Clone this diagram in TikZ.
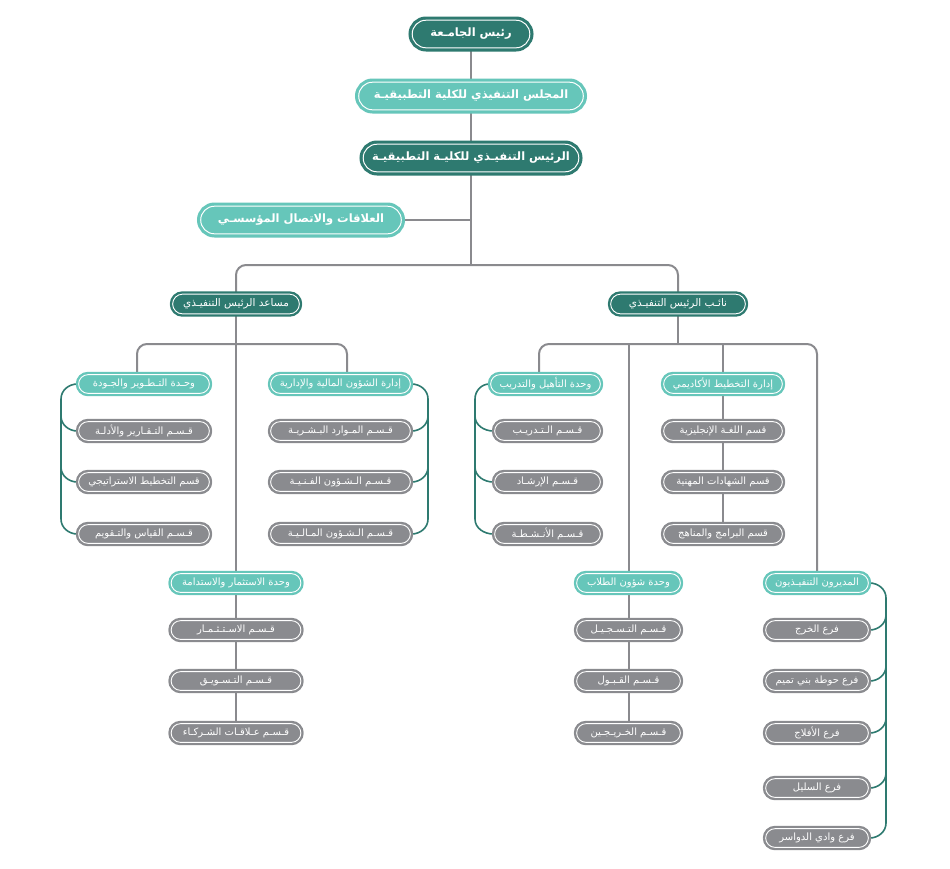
\documentclass[tikz,border=0pt]{standalone}
\usepackage{fontspec}
\newfontfamily\arabicfont[Script=Arabic]{DejaVu Sans}
\TeXXeTstate=1
\usetikzlibrary{backgrounds}
\definecolor{dteal}{RGB}{46,122,112}
\definecolor{lteal}{RGB}{102,198,186}
\definecolor{nodegray}{RGB}{138,139,143}
\definecolor{linegray}{RGB}{138,138,142}
\newcommand{\rtl}[1]{\beginR #1\endR}
\tikzset{
  pillbase/.style={rectangle, inner xsep=3pt, inner ysep=0pt, text=white, double=white, align=center},
  bigpill/.style={pillbase, draw=#1, fill=#1, line width=3.2pt, double distance=1pt,
    minimum height=27.6, rounded corners=13.8, font=\arabicfont\bfseries\fontsize{11.5}{13}\selectfont},
  midpill/.style={pillbase, draw=#1, fill=#1, line width=2.4pt, double distance=0.9pt,
    minimum height=19.7, rounded corners=9.85, font=\arabicfont\fontsize{10.5}{12}\selectfont},
  smallpill/.style={pillbase, draw=#1, fill=#1, line width=2.4pt, double distance=0.9pt,
    minimum height=18.7, rounded corners=9.35, font=\arabicfont\fontsize{10}{12}\selectfont},
  leaf/.style={smallpill=nodegray},
  bw/.style={minimum width={#1-7.4}},
  sw/.style={minimum width={#1-5.3}},
  gline/.style={draw=linegray, line width=2pt},
  tline/.style={draw=dteal, line width=1.6pt},
}
\begin{document}
\begin{tikzpicture}[x=1pt,y=-1pt]
\useasboundingbox (0,0) rectangle (950,868);
% top
\node[bigpill=dteal, bw=125] (top) at (471,34) {\rtl{رئيس الجامـعة}};
\node[bigpill=lteal, bw=232] (council) at (471,96) {\rtl{المجلس التنفيذي للكلية التطبيقيـة}};
\node[bigpill=dteal, bw=223] (ceo) at (471,158) {\rtl{الرئيس التنفيـذي للكليـة التطبيقيـة}};
\node[bigpill=lteal, bw=208] (rel) at (301,220) {\rtl{العلاقات والاتصال المؤسسـي}};
% second level
\node[midpill=dteal, sw=132] (asst) at (236,304) {\rtl{مساعد الرئيس التنفيـذي}};
\node[midpill=dteal, sw=140] (vp) at (678,304) {\rtl{نائـب الرئيس التنفيـذي}};
% unit heads
\node[smallpill=lteal, sw=136] (qual) at (144,384) {\rtl{وحـدة التـطـوير والجـودة}};
\node[smallpill=lteal, sw=145] (fin) at (340.5,384) {\rtl{إدارة الشؤون المالية والإدارية}};
\node[smallpill=lteal, sw=135] (invest) at (236,583) {\rtl{وحدة الاستثمار والاستدامة}};
\node[smallpill=lteal, sw=115] (train) at (545.5,384) {\rtl{وحدة التأهيل والتدريب}};
\node[smallpill=lteal, sw=124] (plan) at (723,384) {\rtl{إدارة التخطيط الأكاديمي}};
\node[smallpill=lteal, sw=109] (stud) at (628.5,583) {\rtl{وحدة شؤون الطلاب}};
\node[smallpill=lteal, sw=108] (execs) at (817,583) {\rtl{المديرون التنفيـذيون}};
% leaves
\node[leaf, sw=136] (q1) at (144,431) {\rtl{قـسـم التـقـارير والأدلـة}};
\node[leaf, sw=136] (q2) at (144,482) {\rtl{قسم التخطيط الاستراتيجي}};
\node[leaf, sw=136] (q3) at (144,534) {\rtl{قـسـم القياس والتـقويم}};
\node[leaf, sw=145] (f1) at (340.5,431) {\rtl{قـسـم المـوارد البـشـريـة}};
\node[leaf, sw=145] (f2) at (340.5,482) {\rtl{قـسـم الـشـؤون الفـنـيـة}};
\node[leaf, sw=145] (f3) at (340.5,534) {\rtl{قـسـم الـشـؤون المـالـيـة}};
\node[leaf, sw=135] (i1) at (236,630) {\rtl{قـسـم الاسـتـثـمـار}};
\node[leaf, sw=135] (i2) at (236,681) {\rtl{قـسـم التـسـويـق}};
\node[leaf, sw=135] (i3) at (236,733) {\rtl{قـسـم عـلاقـات الشـركـاء}};
\node[leaf, sw=111] (t1) at (547.5,431) {\rtl{قـسـم الـتـدريـب}};
\node[leaf, sw=111] (t2) at (547.5,482) {\rtl{قـسـم الإرشـاد}};
\node[leaf, sw=111] (t3) at (547.5,534) {\rtl{قـسـم الأنـشـطـة}};
\node[leaf, sw=124] (p1) at (723,431) {\rtl{قسم اللغـة الإنجليزية}};
\node[leaf, sw=124] (p2) at (723,482) {\rtl{قسم الشهادات المهنية}};
\node[leaf, sw=124] (p3) at (723,534) {\rtl{قسم البرامج والمناهج}};
\node[leaf, sw=109] (s1) at (628.5,630) {\rtl{قـسـم التـسـجـيـل}};
\node[leaf, sw=109] (s2) at (628.5,681) {\rtl{قـسـم القـبـول}};
\node[leaf, sw=109] (s3) at (628.5,733) {\rtl{قـسـم الخـريـجـين}};
\node[leaf, sw=108] (e1) at (817,630) {\rtl{فرع الخرج}};
\node[leaf, sw=108] (e2) at (817,681) {\rtl{فرع حوطة بني تميم}};
\node[leaf, sw=108] (e3) at (817,733) {\rtl{فرع الأفلاج}};
\node[leaf, sw=108] (e4) at (817,788) {\rtl{فرع السليل}};
\node[leaf, sw=108] (e5) at (817,838) {\rtl{فرع وادي الدواسر}};
% coordinates
\coordinate (junc) at (471,265);
\coordinate (qa) at (137,344);
\coordinate (fa) at (347,344);
\coordinate (vb) at (678,344);
\coordinate (tl) at (539,344);
\begin{scope}[on background layer]
\fill[white] (0,0) rectangle (950,868);
\draw[gline] (top) -- (council);
\draw[gline] (council) -- (ceo);
\draw[gline] (ceo.south) -- (junc);
\draw[gline] (rel.east) -- (rel.east -| ceo.south);
\draw[gline, rounded corners=10] (asst.north) |- (junc) -| (vp.north);
\draw[gline, rounded corners=10] (qual.north -| qa) |- (asst.south |- qa) -| (fin.north -| fa);
\draw[gline] (asst.south) -- (invest.north);
\draw[gline] (invest) -- (i1) -- (i2) -- (i3);
\draw[gline] (vp.south) -- (vb);
\draw[gline, rounded corners=10] (train.north -| tl) |- (vb) -| (execs.north);
\draw[gline] (stud.north) -- (stud.north |- vb);
\draw[gline] (plan.north) -- (plan.north |- vb);
\draw[gline] (plan) -- (p1) -- (p2) -- (p3);
\draw[gline] (stud) -- (s1) -- (s2) -- (s3);
% teal brackets
\coordinate (qs1) at (61,399); \coordinate (qs2) at (61,519);
\coordinate (qm1) at (61,416); \coordinate (qm2) at (61,467);
\draw[tline] (qual.west) to[out=180,in=90] (qs1) -- (qs2) to[out=-90,in=180] (q3.west);
\draw[tline] (qm1) to[out=-90,in=180] (q1.west);
\draw[tline] (qm2) to[out=-90,in=180] (q2.west);
\coordinate (fs1) at (428,399); \coordinate (fs2) at (428,519);
\coordinate (fm1) at (428,416); \coordinate (fm2) at (428,467);
\draw[tline] (fin.east) to[out=0,in=90] (fs1) -- (fs2) to[out=-90,in=0] (f3.east);
\draw[tline] (fm1) to[out=-90,in=0] (f1.east);
\draw[tline] (fm2) to[out=-90,in=0] (f2.east);
\coordinate (ts1) at (475,399); \coordinate (ts2) at (475,519);
\coordinate (tm1) at (475,416); \coordinate (tm2) at (475,467);
\draw[tline] (train.west) to[out=180,in=90] (ts1) -- (ts2) to[out=-90,in=180] (t3.west);
\draw[tline] (tm1) to[out=-90,in=180] (t1.west);
\draw[tline] (tm2) to[out=-90,in=180] (t2.west);
\coordinate (es1) at (886,598); \coordinate (es2) at (886,823);
\coordinate (em1) at (886,615); \coordinate (em2) at (886,666);
\coordinate (em3) at (886,718); \coordinate (em4) at (886,773);
\draw[tline] (execs.east) to[out=0,in=90] (es1) -- (es2) to[out=-90,in=0] (e5.east);
\draw[tline] (em1) to[out=-90,in=0] (e1.east);
\draw[tline] (em2) to[out=-90,in=0] (e2.east);
\draw[tline] (em3) to[out=-90,in=0] (e3.east);
\draw[tline] (em4) to[out=-90,in=0] (e4.east);
\end{scope}
\end{tikzpicture}
\end{document}
